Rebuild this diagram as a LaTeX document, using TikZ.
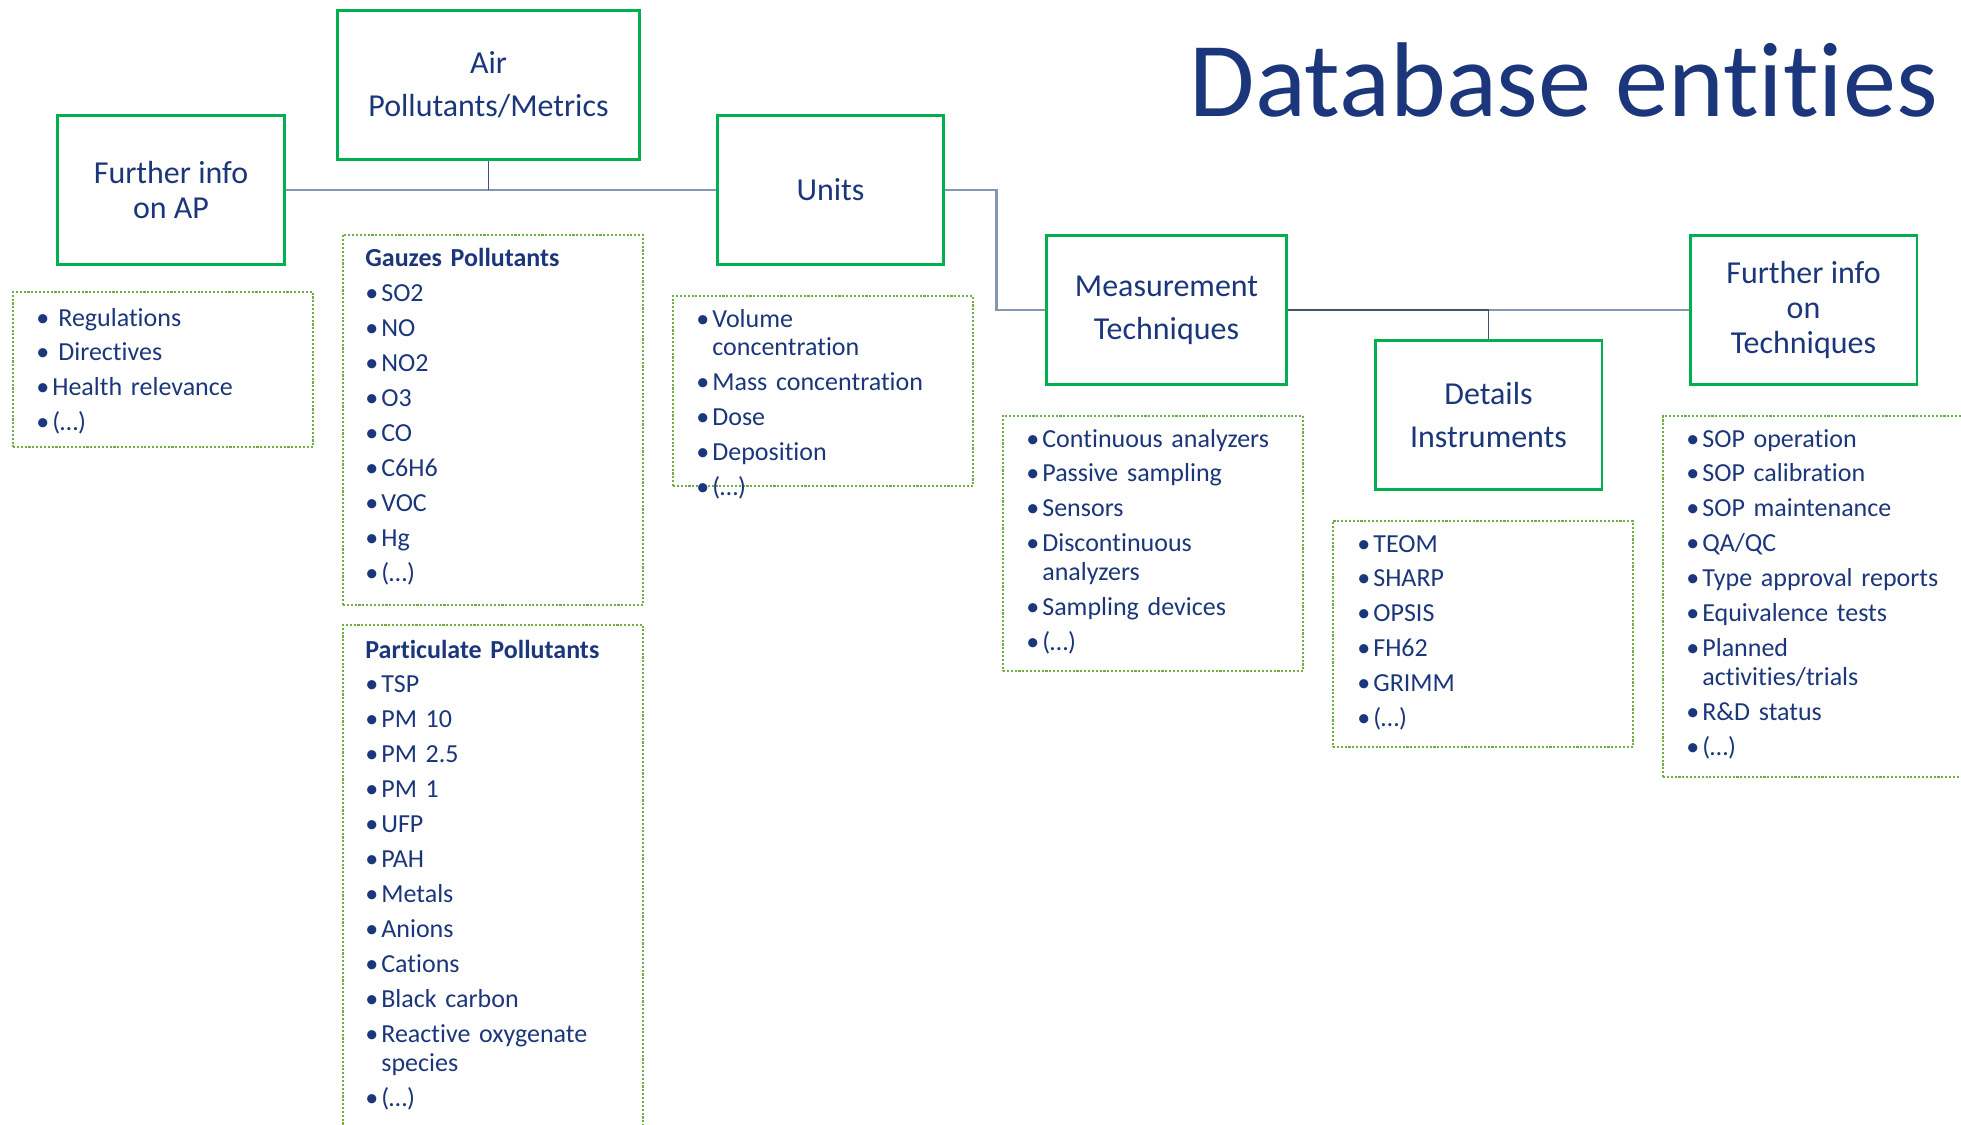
\documentclass[tikz,border=0pt]{standalone}
\usepackage{fontspec}
\setmainfont{Carlito}[Ligatures=NoCommon]
\usepackage{tikz}
\usetikzlibrary{calc}

\definecolor{entblue}{HTML}{1B367A}
\definecolor{entgreen}{HTML}{00B050}
\definecolor{listgreen}{HTML}{70AD47}
\definecolor{linkgray}{HTML}{8497B0}
\definecolor{linkdark}{HTML}{44546A}

% one bullet line of a list, with hanging indent
\newcommand{\li}[2][0.32cm]{\hangindent=#1\hangafter=1\noindent\makebox[#1][l]{•}#2\par}
\newcommand{\lihead}[1]{\noindent\textbf{#1}\par}

\tikzset{
  title/.style={text=entblue, inner sep=0pt, font=\fontsize{60.5}{70}\selectfont},
  entity/.style={draw=entgreen, line width=1.7pt, text=entblue, align=center, inner sep=0pt,
    minimum height=3cm, font=\fontsize{18.2}{24.5}\selectfont},
  tight/.style={font=\fontsize{18.2}{19.9}\selectfont},
  listbox/.style={draw=listgreen, line width=1.1pt, dash pattern=on 1.2pt off 1pt,
    anchor=north west, inner sep=0pt, minimum width=6cm},
  listtext/.style={text=entblue, anchor=base west, inner sep=0pt, text width=#1, align=left,
    font=\fontsize{14.8}{16.5}\selectfont, execute at begin node={\setlength{\parskip}{3.4pt}}},
  link/.style={draw=linkgray, line width=1.3pt},
  linkdk/.style={draw=linkdark, line width=1.1pt}
}

\begin{document}
\begin{tikzpicture}[x=0.02cm,y=-0.02cm]
\useasboundingbox (0,0) rectangle (1961,1125);
\clip (0,0) rectangle (1961,1125);

\node[title, anchor=base east] (dbtitle) at (1938,117) {Database entities};

% entities
\node[entity, tight, minimum width=4.56cm] (apinfo) at (171,190) {Further info\\on AP};
\node[entity, minimum width=6.06cm] (airpol) at (488.5,85) {Air\\Pollutants/Metrics};
\node[entity, minimum width=4.54cm] (units) at (830.5,190) {Units};
\node[entity, minimum width=4.82cm] (meastech) at (1166.5,310) {Measurement\\Techniques};
\node[entity, minimum width=4.54cm] (instr) at (1488.5,415) {Details\\Instruments};
\node[entity, tight, minimum width=4.54cm] (techinfo) at (1803.5,310) {Further info\\on\\Techniques};

% connectors
\draw[link] (apinfo.east) -- (units.west);
\draw[linkdk] (airpol.south) -- (airpol.south |- apinfo.east);
\draw[link] (units.east) -- ++(51,0) |- (meastech.west);
\draw[link] (meastech.east) -- (techinfo.west);
\draw[linkdk] (meastech.east) -| (instr.north);

% lists
\node[listbox, minimum height=3.1cm] (apbox) at (12,291) {};
\node[listtext=5.6cm] (aplist) at (36,326) {\li[0.44cm]{Regulations}\li[0.44cm]{Directives}\li{Health relevance}\li{(…)}};

\node[listbox, minimum height=7.4cm] (gazbox) at (342,234) {};
\node[listtext=5.6cm] (gazlist) at (365,267) {\lihead{Gauzes Pollutants}\li{SO2}\li{NO}\li{NO2}\li{O3}\li{CO}\li{C6H6}\li{VOC}\li{Hg}\li{(…)}};

\node[listbox, minimum height=10.6cm] (partbox) at (342,624) {};
\node[listtext=5.6cm] (partlist) at (365,658) {\lihead{Particulate Pollutants}\li{TSP}\li{PM 10}\li{PM 2.5}\li{PM 1}\li{UFP}\li{PAH}\li{Metals}\li{Anions}\li{Cations}\li{Black carbon}\li{Reactive oxygenate\newline species}\li{(…)}};

\node[listbox, minimum height=3.8cm] (unitbox) at (672,295) {};
\node[listtext=5.6cm] (unitlist) at (696,327) {\li{Volume\newline concentration}\li{Mass concentration}\li{Dose}\li{Deposition}\li{(…)}};

\node[listbox, minimum height=5.1cm] (measbox) at (1002,415) {};
\node[listtext=5.6cm] (measlist) at (1026,447) {\li{Continuous analyzers}\li{Passive sampling}\li{Sensors}\li{Discontinuous\newline analyzers}\li{Sampling devices}\li{(…)}};

\node[listbox, minimum height=4.52cm] (instrbox) at (1332,520) {};
\node[listtext=5.6cm] (instrlist) at (1357,552) {\li{TEOM}\li{SHARP}\li{OPSIS}\li{FH62}\li{GRIMM}\li{(…)}};

\node[listbox, minimum width=6.6cm, minimum height=7.22cm] (techbox) at (1662,415) {};
\node[listtext=5.8cm] (techlist) at (1686,447) {\li{SOP operation}\li{SOP calibration}\li{SOP maintenance}\li{QA/QC}\li{Type approval reports}\li{Equivalence tests}\li{Planned\newline activities/trials}\li{R\&D status}\li{(…)}};
\end{tikzpicture}
\end{document}
